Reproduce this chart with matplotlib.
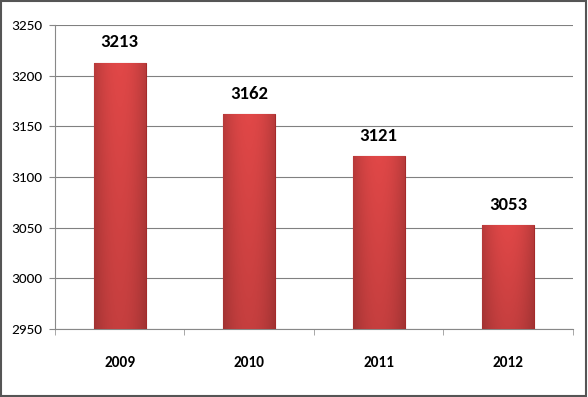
import numpy as np
import matplotlib.pyplot as plt
from matplotlib.patches import Rectangle

years = ['2009', '2010', '2011', '2012']
values = [3213, 3162, 3121, 3053]
y_ticks = [2950, 3000, 3050, 3100, 3150, 3200, 3250]

fam = ['Carlito', 'DejaVu Sans']

fig = plt.figure(figsize=(5.88, 3.97), dpi=100)
ax = fig.add_axes([0.0935, 0.171, 0.881, 0.766])

x = np.arange(len(years))
bars = ax.bar(x, [v - 2950 for v in values], bottom=2950, width=0.4,
              color='#d63d3d', edgecolor='#a52a2a', linewidth=0.8, zorder=3)

# subtle gradient in each bar, lighter in the middle and near the top
gx = np.linspace(-1, 1, 64)
gy = np.linspace(0, 1, 64)
shade = (1 - 0.18 * gx[None, :] ** 2) * (0.88 + 0.12 * gy[:, None])
base = np.array([0.88, 0.28, 0.28])
img = np.clip(shade[:, :, None] * base[None, None, :], 0, 1)
for b in bars:
    x0, y0 = b.get_x(), b.get_y()
    w, h = b.get_width(), b.get_height()
    im = ax.imshow(img, extent=[x0, x0 + w, y0, y0 + h], aspect='auto', origin='lower',
                   zorder=3.5, interpolation='bicubic')
    im.set_clip_path(b)

for xi, v in zip(x, values):
    ax.text(xi, v + 12, str(v), ha='center', va='bottom', fontsize=13.5,
            fontweight='bold', family=fam)

ax.set_xlim(-0.5, len(years) - 0.5)
ax.set_ylim(2950, 3250)
ax.set_yticks(y_ticks)
ax.set_yticklabels([str(t) for t in y_ticks], family=fam, fontsize=11)
ax.set_xticks(x)
ax.set_xticklabels(years, family=fam, fontsize=11, fontweight='bold')
ax.set_xticks(np.arange(-0.5, len(years)), minor=True)
ax.tick_params(axis='x', which='major', length=0, pad=19)
ax.tick_params(axis='x', which='minor', length=4, color='#999999', direction='out')
ax.tick_params(axis='y', length=4, color='#888888', pad=5)
ax.grid(axis='y', color='#808080', linewidth=0.8, zorder=0)
for s in ['top', 'right']:
    ax.spines[s].set_visible(False)
for s in ['left', 'bottom']:
    ax.spines[s].set_color('#888888')

fig.patches.append(Rectangle((0.002, 0.003), 0.995, 0.994, transform=fig.transFigure,
                             fill=False, edgecolor='#555555', linewidth=1.5))

fig.savefig('out.png', dpi=100)
